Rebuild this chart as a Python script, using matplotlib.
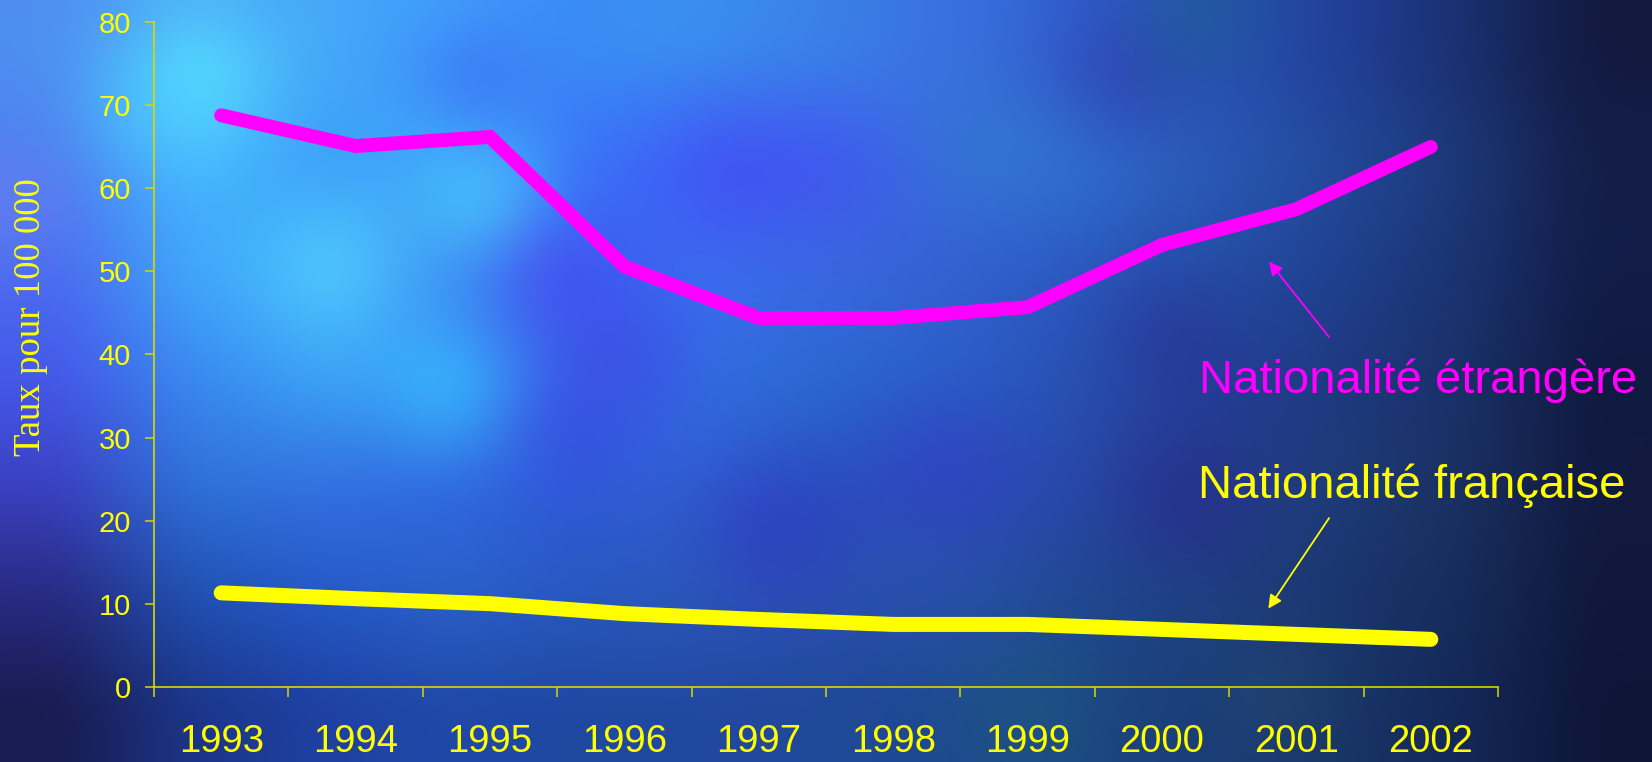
import numpy as np
import matplotlib
matplotlib.use("Agg")
import matplotlib.pyplot as plt
from matplotlib import font_manager
from matplotlib.colors import to_rgb

# ---- data -------------------------------------------------------------
years = ["1993", "1994", "1995", "1996", "1997", "1998", "1999", "2000", "2001", "2002"]
etrangere = [68.8, 65.1, 66.2, 50.6, 44.4, 44.4, 45.7, 53.2, 57.5, 65.0]
francaise = [11.3, 10.6, 10.0, 8.8, 8.1, 7.5, 7.5, 6.9, 6.3, 5.7]
y_ticks = [0, 10, 20, 30, 40, 50, 60, 70, 80]

label_etr = "Nationalité étrangère"
label_fr = "Nationalité française"
y_title = "Taux pour 100 000"

MAGENTA = "#FF00FF"
YELLOW = "#FFFF00"

W, H, DPI = 1652, 762, 100

# ---- backdrop: mottled blue slide background --------------------------
# coarse colour field (7 rows x 13 columns spread over the whole slide)
field_hex = [
    ["#4f8ef0", "#4a9cf5", "#45a8f8", "#3c9cf8", "#3a8cf5", "#3a90f0", "#3a80e8", "#3a70e0", "#3060d0", "#2850b8", "#22409a", "#1a3070", "#121a40"],
    ["#4a7ef0", "#45b0ff", "#3a9cf8", "#3ea8fa", "#3a70f8", "#3a6cf8", "#4058f0", "#3a6ae0", "#3070d0", "#2a5ab8", "#234a9a", "#1c3878", "#141e48"],
    ["#4a6cf0", "#40a8fa", "#40b0fa", "#3a8af0", "#3a60f0", "#3a70f0", "#3a68e0", "#3460d0", "#2a58c0", "#2450a8", "#204090", "#1a3470", "#121c48"],
    ["#4558e8", "#3a88f0", "#3aa0f5", "#3aa0f8", "#3a60e8", "#3070e0", "#2a68d0", "#2860c8", "#2850b0", "#234098", "#1e3a80", "#1a3068", "#101a40"],
    ["#3a40c0", "#2e70d8", "#3470e0", "#3068e0", "#2e5ad8", "#3060d0", "#2a50c0", "#2850b8", "#2848a8", "#22408c", "#1e3c78", "#1a3060", "#121a40"],
    ["#282a80", "#2050b0", "#2458c8", "#2a60c8", "#2858c0", "#2a58b8", "#2a50b0", "#2850a8", "#204890", "#1e4080", "#1a3670", "#162c5a", "#10183c"],
    ["#181c50", "#1c3488", "#1e40a0", "#2048a8", "#1e48a0", "#2248a0", "#204898", "#1e4890", "#1c4480", "#1a3c78", "#183468", "#142858", "#0e1638"],
]
# soft spots: (x px, y px, radius px, colour, strength)
spots = [
    (195, 78, 55, "#55e4ff", 0.85), (140, 110, 40, "#48c8ff", 0.45),
    (487, 200, 45, "#4cd8ff", 0.7), (333, 267, 50, "#55d0ff", 0.7),
    (450, 391, 40, "#35c0ff", 0.6), (455, 15, 45, "#48b0ff", 0.5),
    (476, 73, 45, "#3a5cf5", 0.5), (730, 173, 55, "#4448f0", 0.6),
    (556, 273, 45, "#4846f0", 0.6), (635, 360, 45, "#4040e8", 0.5),
    (571, 428, 40, "#3848e0", 0.5), (768, 531, 50, "#3030c0", 0.5),
    (1123, 73, 50, "#3038a8", 0.55), (945, 464, 50, "#3838c8", 0.5),
    (1186, 498, 50, "#28288a", 0.6), (1171, 333, 45, "#2a2e90", 0.5),
    (1197, 20, 45, "#1e6090", 0.6), (987, 150, 50, "#2e7cc8", 0.5),
    (1029, 714, 50, "#1e6080", 0.5), (1275, 698, 45, "#2a5070", 0.4),
    (16, 200, 40, "#7080f0", 0.6),
]

def build_backdrop(step=4):
    field = np.array([[to_rgb(c) for c in row] for row in field_hex])
    nr, nc = field.shape[:2]
    ys = (np.arange(0, H, step) + step / 2)
    xs = (np.arange(0, W, step) + step / 2)
    gy = ys / H * nr - 0.5
    gx = xs / W * nc - 0.5
    # separable linear interpolation of the coarse field
    tmp = np.stack([np.stack([np.interp(gx, np.arange(nc), field[r, :, ch])
                              for ch in range(3)], -1) for r in range(nr)])
    img = np.stack([np.stack([np.interp(gy, np.arange(nr), tmp[:, c, ch])
                              for ch in range(3)], -1) for c in range(len(xs))], 1)
    X, Y = np.meshgrid(xs, ys)
    for sx, sy, rad, col, k in spots:
        g = k * np.exp(-((X - sx) ** 2 + (Y - sy) ** 2) / (2 * rad ** 2))
        img = img * (1 - g[..., None]) + np.array(to_rgb(col)) * g[..., None]
    # gaussian smoothing to remove interpolation creases
    sig = 22 / step
    r = int(3 * sig)
    k1 = np.exp(-np.arange(-r, r + 1) ** 2 / (2 * sig ** 2))
    k1 /= k1.sum()
    pad = np.pad(img, ((r, r), (r, r), (0, 0)), mode="edge")
    out = np.apply_along_axis(lambda v: np.convolve(v, k1, mode="valid"), 1, pad)
    out = np.apply_along_axis(lambda v: np.convolve(v, k1, mode="valid"), 0, out)
    return np.clip(out, 0, 1)

installed = {f.name for f in font_manager.fontManager.ttflist}
font = "Liberation Sans"
narrow = "Liberation Sans Narrow" if "Liberation Sans Narrow" in installed else font
ytick_size = 22.5 if narrow != font else 21

fig = plt.figure(figsize=(W / DPI, H / DPI), dpi=DPI)
bg = fig.add_axes([0, 0, 1, 1], zorder=-5)
bg.imshow(build_backdrop(), interpolation="bilinear", extent=(0, 1, 0, 1), aspect="auto")
bg.set_xlim(0, 1)
bg.set_ylim(0, 1)
bg.axis("off")

# ---- chart area --------------------------------------------------------
x0, x1 = 154, 1498
y_top, y_bot = 22.3, 686.7
ax = fig.add_axes([x0 / W, (H - y_bot) / H, (x1 - x0) / W, (y_bot - y_top) / H])
ax.patch.set_alpha(0)

x = np.arange(len(years))
ax.plot(x, etrangere, color=MAGENTA, lw=10.0, solid_capstyle="round",
        solid_joinstyle="miter", clip_on=False, zorder=3)
ax.plot(x, francaise, color=YELLOW, lw=10.8, solid_capstyle="round",
        solid_joinstyle="miter", clip_on=False, zorder=3)

ax.set_xlim(-0.5, len(years) - 0.5)
ax.set_ylim(0, 80)

axis_col = "#d8d800"
for side in ("top", "right"):
    ax.spines[side].set_visible(False)
for side in ("left", "bottom"):
    ax.spines[side].set_color(axis_col)
    ax.spines[side].set_linewidth(1.2)

ax.set_yticks(y_ticks)
ax.set_yticklabels([str(v) for v in y_ticks], fontsize=ytick_size, color=YELLOW, family=narrow)
ax.tick_params(axis="y", direction="out", length=6.5, width=1.1, color=axis_col, pad=10)

# category boundaries carry the tick marks, centres carry the labels
ax.set_xticks(np.arange(-0.5, len(years), 1.0))
ax.set_xticklabels([])
ax.tick_params(axis="x", which="major", direction="out", length=7.2, width=1.1, color=axis_col)
ax.set_xticks(x, minor=True)
ax.set_xticklabels(years, minor=True, fontsize=27.5, color=YELLOW, family=font)
ax.tick_params(axis="x", which="minor", length=0, pad=27)

fig.text(31 / W, 1 - 317 / H, y_title, rotation=90, ha="center", va="center",
         fontsize=26.5, color=YELLOW, family="Liberation Serif")

# ---- series captions with pointers ------------------------------------
ax.text(7.275, 35.4, label_etr, color=MAGENTA, fontsize=34, family=font,
        ha="left", va="baseline", clip_on=False)
ax.text(7.265, 22.7, label_fr, color=YELLOW, fontsize=34, family=font,
        ha="left", va="baseline", clip_on=False)

ax.annotate("", xy=(7.796, 51.2), xytext=(8.243, 42.1),
            arrowprops=dict(arrowstyle="-|>", color=MAGENTA, lw=1.3,
                            mutation_scale=20, shrinkA=0, shrinkB=0),
            annotation_clip=False)
ax.annotate("", xy=(7.791, 9.4), xytext=(8.243, 20.3),
            arrowprops=dict(arrowstyle="-|>", color=YELLOW, lw=1.3,
                            mutation_scale=20, shrinkA=0, shrinkB=0),
            annotation_clip=False)

fig.savefig("out.png", dpi=DPI)
